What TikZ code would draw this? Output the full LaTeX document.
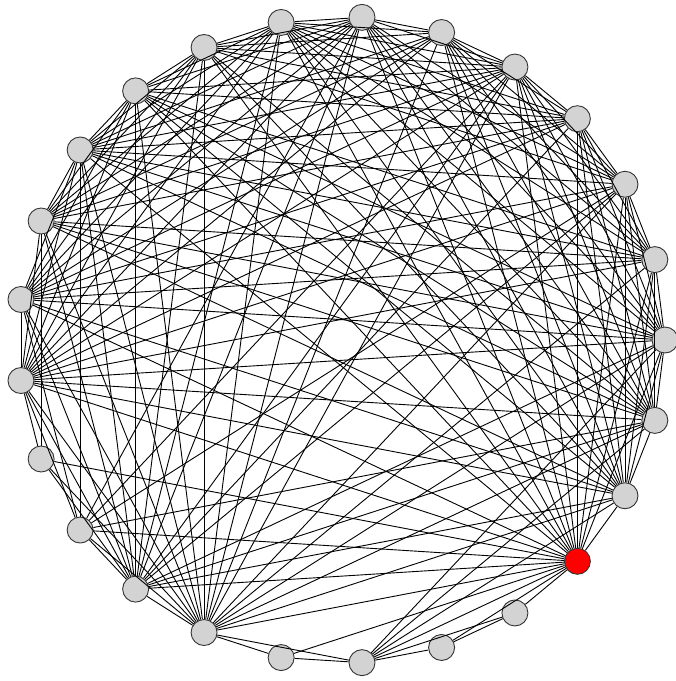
\documentclass[tikz,border=0pt]{standalone}
\definecolor{nodegray}{RGB}{211,211,211}
\definecolor{nodered}{RGB}{255,0,0}
\begin{document}
\begin{tikzpicture}[x=1pt,y=1pt,
  vtx/.style={circle,draw=black!80,fill=nodegray,line width=0.9pt,minimum size=26pt,inner sep=0pt},
  redvtx/.style={vtx,fill=nodered},
  edge/.style={draw=black,line width=0.9pt}]
\useasboundingbox (0,0) rectangle (676,-681);
\begin{scope}[shift={(341.7,-340)}]
\foreach \k in {0,...,24}{
  \ifnum\k=22
    \node[redvtx] (n\k) at ({14.4*\k}:323.3) {};
  \else
    \node[vtx] (n\k) at ({14.4*\k}:323.3) {};
  \fi
}
\end{scope}
\pgfmathsetseed{7}
\def\corelist{{1,1,1,1,1,1,1,1,1,1,1,1,1,1,0,0,0,0,0,0,0,0,1,1,1}}
\foreach \i in {0,...,24}{
  \foreach \j in {0,...,24}{
    \ifnum\i<\j\relax
      \pgfmathsetmacro\cc{\corelist[\i]*\corelist[\j]}
      \pgfmathsetmacro\rr{rnd}
      \ifdim\cc pt>0.5pt
        \ifdim\rr pt<0.9pt
          \draw[edge] (n\i) -- (n\j);
        \fi
      \fi
    \fi
  }
}
\foreach \a/\b in {16/0,16/2,16/3,16/4,16/6,16/7,16/8,16/9,16/10,16/11,16/12,16/13,16/22,16/23,16/24,16/14,16/15,16/17,
  17/0,17/1,17/2,17/4,17/5,17/6,17/7,17/8,17/9,17/10,17/11,17/12,17/13,17/22,17/23,17/24,17/14,17/15,17/18,17/19,
  15/10,15/22,15/12,15/13,15/6,15/4,15/24,15/2,
  14/11,14/13,14/22,
  18/19,18/22,
  19/20,19/21,19/22,19/23,19/24,19/0,
  20/21,20/22,21/22,
  3/22,2/23,12/13,1/24}
  \draw[edge] (n\a) -- (n\b);
\end{tikzpicture}
\end{document}
